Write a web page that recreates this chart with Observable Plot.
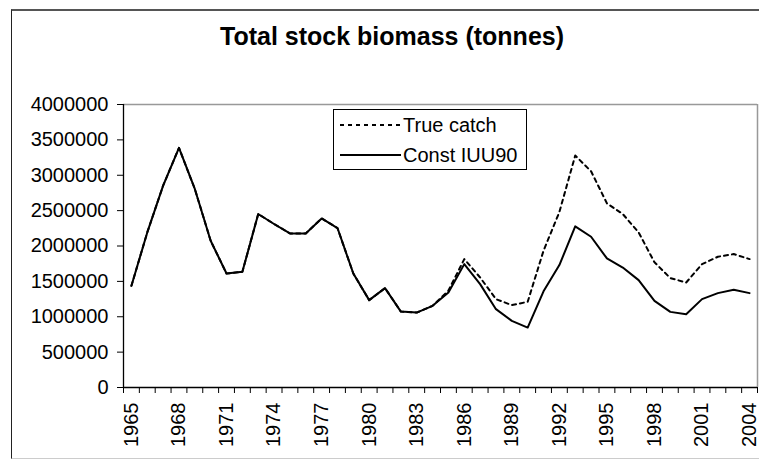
<!DOCTYPE html>
<html>
<head>
<meta charset="utf-8">
<script src="https://cdn.jsdelivr.net/npm/d3@7"></script>
<script src="https://cdn.jsdelivr.net/npm/@observablehq/plot@0.6"></script>
<style>
  html, body { margin: 0; padding: 0; background: #fff; }
  body { width: 759px; height: 463px; position: relative; overflow: hidden; font-family: "Liberation Sans", Arial, sans-serif; }
  #border { position: absolute; left: 11px; top: 9px; width: 800px; height: 450px; border-top: 2px solid #555; border-left: 1px solid #222; border-bottom: 1px solid #ccc; box-sizing: border-box; }
  #chart { position: absolute; left: 0; top: 0; }
  #title { position: absolute; left: 0; width: 784px; top: 24px; text-align: center; font-weight: bold; font-size: 25px; line-height: 25px; color: #000; }
  #legend { position: absolute; left: 333px; top: 109px; }
</style>
</head>
<body>
<div id="border"></div>
<div id="chart"></div>
<div id="title">Total stock biomass (tonnes)</div>
<div id="legend"></div>
<script>
const years = [1965,1966,1967,1968,1969,1970,1971,1972,1973,1974,
               1975,1976,1977,1978,1979,1980,1981,1982,1983,1984,
               1985,1986,1987,1988,1989,1990,1991,1992,1993,1994,
               1995,1996,1997,1998,1999,2000,2001,2002,2003,2004];

const trueCatch = [1437000,2192000,2853000,3387000,2806000,2074000,1611000,1635000,2452000,2311000,
                   2178000,2178000,2390000,2254000,1611000,1235000,1405000,1073000,1059000,1154000,
                   1370000,1815000,1555000,1249000,1164000,1211000,1933000,2480000,3278000,3056000,
                   2603000,2452000,2192000,1770000,1546000,1484000,1744000,1848000,1886000,1815000];

const constIUU90 = [1437000,2192000,2853000,3387000,2806000,2074000,1611000,1635000,2452000,2311000,
                    2178000,2178000,2390000,2254000,1611000,1235000,1405000,1073000,1059000,1154000,
                    1342000,1744000,1461000,1107000,942000,847000,1360000,1730000,2277000,2131000,
                    1824000,1696000,1518000,1225000,1069000,1036000,1249000,1334000,1381000,1334000];

const seriesNames = ["True catch", "Const IUU90"];
const yTicks = [0,500000,1000000,1500000,2000000,2500000,3000000,3500000,4000000];
const xTickLabels = [1965,1968,1971,1974,1977,1980,1983,1986,1989,1992,1995,1998,2001,2004];

const trueData = years.map((y, i) => ({year: y, value: trueCatch[i]}));
const constData = years.map((y, i) => ({year: y, value: constIUU90[i]}));
const boundaries = years.map(y => y - 0.5).concat([years[years.length - 1] + 0.5]);
const xMin = years[0] - 0.5, xMax = years[years.length - 1] + 0.5;

const chart = Plot.plot({
  width: 759,
  height: 463,
  marginLeft: 123,
  marginRight: 2,
  marginTop: 104,
  marginBottom: 76,
  x: {domain: [xMin, xMax]},
  y: {domain: [0, 4000000]},
  style: {fontFamily: "'Liberation Sans', Arial, sans-serif", fontSize: "20px", color: "#000", background: "transparent", overflow: "visible"},
  marks: [
    Plot.ruleY([4000000], {stroke: "#999", strokeWidth: 1.5}),
    Plot.ruleX([xMax], {stroke: "#999", strokeWidth: 1.5}),
    Plot.axisY({ticks: yTicks, tickSize: 6, tickPadding: 9, tickFormat: d3.format("d"), label: null, strokeOpacity: 1, strokeWidth: 1}),
    Plot.axisX({ticks: boundaries, tickSize: 6, tickFormat: () => "", label: null, strokeOpacity: 1, strokeWidth: 1}),
    Plot.axisX({ticks: xTickLabels, tickSize: 0, tickPadding: 15, tickRotate: -90, tickFormat: d => String(d), label: null}),
    Plot.ruleX([xMin], {stroke: "#000", strokeWidth: 1.3}),
    Plot.ruleY([0], {stroke: "#000", strokeWidth: 1.3}),
    Plot.line(trueData, {x: "year", y: "value", stroke: "#000", strokeWidth: 2, strokeDasharray: "4,4"}),
    Plot.line(constData, {x: "year", y: "value", stroke: "#000", strokeWidth: 2})
  ]
});
document.getElementById("chart").appendChild(chart);

// Legend
const lg = d3.select("#legend").append("svg").attr("width", 196).attr("height", 62);
lg.append("rect").attr("x", 0.5).attr("y", 0.5).attr("width", 193).attr("height", 60)
  .attr("fill", "#fff").attr("stroke", "#000").attr("stroke-width", 1);
const rows = [
  {name: seriesNames[0], dash: "4,4", cy: 16},
  {name: seriesNames[1], dash: null, cy: 46}
];
rows.forEach(r => {
  const ln = lg.append("line").attr("x1", 7).attr("x2", 68).attr("y1", r.cy).attr("y2", r.cy)
    .attr("stroke", "#000").attr("stroke-width", 2);
  if (r.dash) ln.attr("stroke-dasharray", r.dash);
  lg.append("text").attr("x", 70).attr("y", r.cy + 7).attr("font-size", 20)
    .attr("font-family", "'Liberation Sans', Arial, sans-serif").attr("fill", "#000").text(r.name);
});
</script>
</body>
</html>
